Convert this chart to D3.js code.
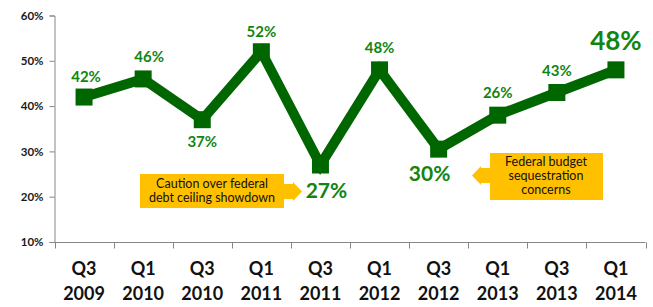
<!DOCTYPE html>
<html>
<head>
<meta charset="utf-8">
<script src="https://cdn.jsdelivr.net/npm/d3@7"></script>
<style>
  body { margin: 0; background: #fff; }
  text { font-family: Lato, "Open Sans", sans-serif; }
</style>
</head>
<body>
<div id="chart"></div>
<script>
// data
var periods = ["Q3 2009", "Q1 2010", "Q3 2010", "Q1 2011", "Q3 2011", "Q1 2012", "Q3 2012", "Q1 2013", "Q3 2013", "Q1 2014"];
var values = [42, 46, 37, 52, 27, 48, 30.5, 38, 43, 48];
var labels = ["42%", "46%", "37%", "52%", "27%", "48%", "30%", "26%", "43%", "48%"];
var yTicks = [10, 20, 30, 40, 50, 60];
var notes = [
  { at: "Q3 2011", lines: ["Caution over federal", "debt ceiling showdown"] },
  { at: "Q3 2012", lines: ["Federal budget", "sequestration", "concerns"] }
];

var width = 653, height = 307;
var green = "#006600", labelGreen = "#118511", gold = "#ffc000";

var svg = d3.select("#chart").append("svg")
    .attr("width", width)
    .attr("height", height);

var x = d3.scaleBand().domain(periods).range([54.5, 645.5]);
var y = d3.scaleLinear().domain([10, 60]).range([242, 15.5]);
var cx = function (p) { return x(p) + x.bandwidth() / 2; };

// y axis
var yAxis = d3.axisLeft(y).tickValues(yTicks).tickSize(5).tickFormat(function (d) { return d + "%"; });
var gy = svg.append("g")
    .attr("transform", "translate(" + 54.5 + ",0)")
    .call(yAxis);
gy.select(".domain").attr("stroke", "#868686");
gy.selectAll(".tick line").attr("stroke", "#868686");
gy.selectAll(".tick text")
    .attr("x", -11)
    .attr("font-size", 11.5)
    .attr("font-weight", "bold")
    .attr("fill", "#1a1a1a");

// x axis
var gx = svg.append("g")
    .attr("transform", "translate(0," + 242.5 + ")");
gx.append("line")
    .attr("x1", 54.5).attr("x2", 645.5)
    .attr("stroke", "#868686");
gx.selectAll("line.tk")
    .data(periods.concat(["end"])).enter().append("line")
    .attr("class", "tk")
    .attr("x1", function (d, i) { return Math.round(54.5 + i * x.step()) + 0.5; })
    .attr("x2", function (d, i) { return Math.round(54.5 + i * x.step()) + 0.5; })
    .attr("y1", 0).attr("y2", 6)
    .attr("stroke", "#868686");
var xl = gx.selectAll("text.xl")
    .data(periods).enter().append("text")
    .attr("class", "xl")
    .attr("text-anchor", "middle")
    .attr("font-size", 18)
    .attr("font-weight", "bold")
    .attr("fill", "#111");
xl.append("tspan")
    .attr("x", function (d) { return cx(d); })
    .attr("y", 32)
    .text(function (d) { return d.split(" ")[0]; });
xl.append("tspan")
    .attr("x", function (d) { return cx(d); })
    .attr("y", 57)
    .text(function (d) { return d.split(" ")[1]; });

// line + markers
var line = d3.line()
    .x(function (d, i) { return cx(periods[i]); })
    .y(function (d) { return y(d); });
svg.append("path")
    .datum(values)
    .attr("d", line)
    .attr("fill", "none")
    .attr("stroke", green)
    .attr("stroke-width", 10)
    .attr("stroke-linejoin", "miter");
svg.selectAll("rect.mk")
    .data(values).enter().append("rect")
    .attr("class", "mk")
    .attr("x", function (d, i) { return cx(periods[i]) - 8.5; })
    .attr("y", function (d) { return y(d) - 8.5; })
    .attr("width", 17).attr("height", 17)
    .attr("fill", green);

// value labels: offset (dx, dy) from point, font size
var labelPos = [
  [2, -15, 15], [6, -17, 15], [0, 27, 15], [0, -15, 15], [6, 33, 21],
  [0, -17, 15], [-9, 32, 21], [0, -17, 15], [0, -17, 15], [0, -20, 26]
];
svg.selectAll("text.vl")
    .data(values).enter().append("text")
    .attr("class", "vl")
    .attr("x", function (d, i) { return cx(periods[i]) + labelPos[i][0]; })
    .attr("y", function (d, i) { return y(d) + labelPos[i][1]; })
    .attr("text-anchor", "middle")
    .attr("font-size", function (d, i) { return labelPos[i][2]; })
    .attr("font-weight", "bold")
    .attr("fill", labelGreen)
    .text(function (d, i) { return labels[i]; });

// annotation boxes
var n1 = svg.append("g");
n1.append("rect").attr("x", 140).attr("y", 174).attr("width", 144).attr("height", 34).attr("fill", gold);
n1.append("path")
    .attr("d", "M283,184 L293,184 L293,182 L302,191.5 L293,201 L293,199 L283,199 Z")
    .attr("fill", gold);
n1.selectAll("text").data(notes[0].lines).enter().append("text")
    .attr("x", 212).attr("y", function (d, i) { return 188 + i * 14; })
    .attr("text-anchor", "middle")
    .attr("font-family", "Liberation Sans, Arial, sans-serif")
    .attr("font-size", 12.5)
    .attr("fill", "#111")
    .text(function (d) { return d; });

var n2 = svg.append("g");
n2.append("rect").attr("x", 490).attr("y", 153).attr("width", 113).attr("height", 47).attr("fill", gold);
n2.append("path")
    .attr("d", "M491,168 L481,168 L481,166 L472,175.5 L481,185 L481,183 L491,183 Z")
    .attr("fill", gold);
n2.selectAll("text").data(notes[1].lines).enter().append("text")
    .attr("x", 546).attr("y", function (d, i) { return 166 + i * 14; })
    .attr("text-anchor", "middle")
    .attr("font-family", "Liberation Sans, Arial, sans-serif")
    .attr("font-size", 12.5)
    .attr("fill", "#111")
    .text(function (d) { return d; });
</script>
</body>
</html>
